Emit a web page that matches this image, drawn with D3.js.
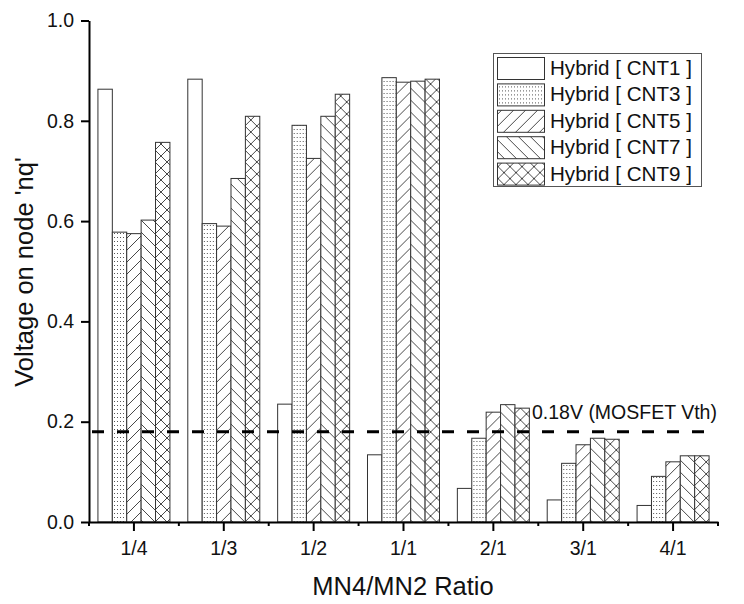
<!DOCTYPE html>
<html>
<head>
<meta charset="utf-8">
<script src="https://cdn.jsdelivr.net/npm/d3@7"></script>
<style>
  body { margin: 0; background: #fff; }
  text { font-family: 'Liberation Sans', Arial, sans-serif; fill: #111; }
</style>
</head>
<body>
<div class="canvas"></div>
<script>
// data
const categories = ['1/4', '1/3', '1/2', '1/1', '2/1', '3/1', '4/1'];
const series = ['Hybrid [ CNT1 ]', 'Hybrid [ CNT3 ]', 'Hybrid [ CNT5 ]', 'Hybrid [ CNT7 ]', 'Hybrid [ CNT9 ]'];
const cnt1 = [0.863, 0.883, 0.235, 0.134, 0.067, 0.044, 0.033];
const cnt3 = [0.578, 0.595, 0.791, 0.886, 0.167, 0.117, 0.091];
const cnt5 = [0.575, 0.590, 0.725, 0.877, 0.219, 0.154, 0.120];
const cnt7 = [0.602, 0.685, 0.809, 0.879, 0.234, 0.167, 0.132];
const cnt9 = [0.757, 0.809, 0.853, 0.883, 0.227, 0.165, 0.132];
const yTicks = [0, 0.2, 0.4, 0.6, 0.8, 1.0];
const vth = 0.18;

const values = [cnt1, cnt3, cnt5, cnt7, cnt9];
const patterns = ['none', 'dots', 'diag', 'back', 'cross'];

const svg = d3.select('.canvas')
    .append('svg')
    .attr('width', 744)
    .attr('height', 604);

// hatch patterns
const defs = svg.append('defs');
const dots = defs.append('pattern').attr('id', 'dots')
    .attr('patternUnits', 'userSpaceOnUse').attr('width', 3).attr('height', 4);
dots.append('rect').attr('x', 1).attr('y', 1).attr('width', 1).attr('height', 1).attr('fill', '#555');

const hatch = (id, d, size) => {
    defs.append('pattern').attr('id', id)
        .attr('patternUnits', 'userSpaceOnUse')
        .attr('width', size).attr('height', size)
        .append('path')
        .attr('d', d)
        .attr('stroke', '#333')
        .attr('stroke-width', 0.9)
        .attr('fill', 'none');
};
const s = 12;
hatch('diag', `M0,${s} L${s},0 M-2,2 L2,-2 M${s - 2},${s + 2} L${s + 2},${s - 2}`, s);
hatch('back', `M0,0 L${s},${s} M-2,${s - 2} L2,${s + 2} M${s - 2},-2 L${s + 2},2`, s);
hatch('cross', `M0,${s} L${s},0 M-2,2 L2,-2 M${s - 2},${s + 2} L${s + 2},${s - 2} M0,0 L${s},${s} M-2,${s - 2} L2,${s + 2} M${s - 2},-2 L${s + 2},2`, s);

const fillFor = i => patterns[i] === 'none' ? '#fff' : `url(#${patterns[i]})`;

// scales
const x = d3.scaleBand()
    .domain(categories)
    .range([89, 718])
    .padding(0);

const xs = d3.scaleBand()
    .domain(series)
    .range([0, x.bandwidth()])
    .paddingInner(0)
    .paddingOuter(0.62);

const y = d3.scaleLinear()
    .domain([0, 1])
    .range([522, 20.5]);

// bars
const groups = svg.append('g').selectAll('g')
    .data(categories)
    .enter().append('g')
    .attr('transform', d => `translate(${x(d)},0)`);

groups.selectAll('g.bar')
    .data((c, ci) => series.map((sname, si) => ({ sname, si, v: values[si][ci] })))
    .enter().append('g')
    .attr('class', 'bar')
    .each(function (d) {
        const g = d3.select(this);
        const attrs = sel => sel
            .attr('x', xs(d.sname))
            .attr('y', y(d.v))
            .attr('width', xs.bandwidth())
            .attr('height', y(0) - y(d.v));
        g.append('rect').call(attrs).attr('fill', '#fff');
        g.append('rect').call(attrs)
            .attr('fill', fillFor(d.si))
            .attr('stroke', '#333')
            .attr('stroke-width', 1);
    });

// threshold line
svg.append('line')
    .attr('x1', x.range()[0])
    .attr('x2', x.range()[1] - 3)
    .attr('y1', y(vth))
    .attr('y2', y(vth))
    .attr('stroke', '#000')
    .attr('stroke-width', 3)
    .attr('stroke-dasharray', '12,13')
    .attr('stroke-dashoffset', -3);

svg.append('text')
    .attr('x', 532)
    .attr('y', 419)
    .style('font-size', '19.5px')
    .text('0.18V (MOSFET Vth)');

// axes
const yAxisGroup = svg.append('g').attr('transform', `translate(${x.range()[0]},0)`);
yAxisGroup.call(d3.axisLeft(y).tickValues(d3.range(0.1, 1, 0.2)).tickSize(4).tickSizeOuter(0).tickFormat(''));
yAxisGroup.call(d3.axisLeft(y).tickValues(yTicks).tickSize(8).tickSizeOuter(0).tickPadding(7).tickFormat(d3.format('.1f')));

const xAxisGroup = svg.append('g').attr('transform', `translate(0,${y(0)})`);
xAxisGroup.call(d3.axisBottom(x).tickSize(9).tickSizeOuter(0).tickPadding(10));
xAxisGroup.selectAll('.minor')
    .data(categories.map(c => x(c)).concat([x.range()[1]]))
    .enter().append('line')
    .attr('class', 'minor')
    .attr('x1', d => d).attr('x2', d => d)
    .attr('y1', 0).attr('y2', 4)
    .attr('stroke', '#000').attr('stroke-width', 2);

svg.selectAll('.domain').attr('stroke', '#000').attr('stroke-width', 2);
svg.selectAll('.tick line').attr('stroke', '#000').attr('stroke-width', 2);
svg.selectAll('.tick text')
    .style('font-family', "'Liberation Sans', Arial, sans-serif")
    .style('font-size', '19.5px')
    .attr('fill', '#111');

// axis titles
svg.append('text')
    .attr('transform', 'translate(33,272) rotate(-90)')
    .attr('text-anchor', 'middle')
    .style('font-size', '25.5px')
    .text("Voltage on node 'nq'");

svg.append('text')
    .attr('x', 403)
    .attr('y', 595)
    .attr('text-anchor', 'middle')
    .style('font-size', '25.5px')
    .text('MN4/MN2 Ratio');

// legend
const legend = svg.append('g');
legend.append('rect')
    .attr('x', 493.5).attr('y', 53.5)
    .attr('width', 208).attr('height', 133)
    .attr('fill', '#fff')
    .attr('stroke', '#555')
    .attr('stroke-width', 1);

const rowY = d3.scaleBand().domain(series).range([55, 187]);
const items = legend.selectAll('g.item')
    .data(series)
    .enter().append('g')
    .attr('class', 'item')
    .attr('transform', d => `translate(0,${rowY(d)})`);

items.append('rect')
    .attr('x', 497.5).attr('y', 2.5)
    .attr('width', 47).attr('height', 22)
    .attr('fill', (d, i) => fillFor(i))
    .attr('stroke', '#333');

items.append('text')
    .attr('x', 550)
    .attr('y', 20)
    .style('font-size', '20.6px')
    .text(d => d);
</script>
</body>
</html>
